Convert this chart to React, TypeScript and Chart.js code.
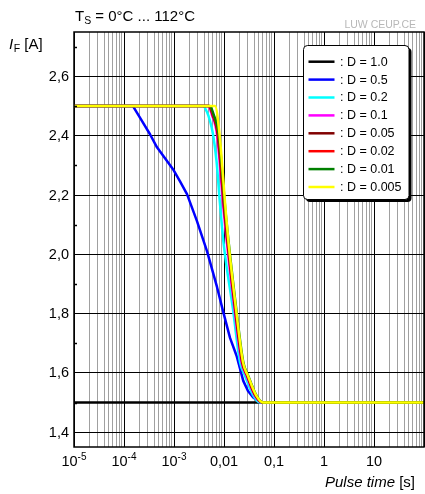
import React, { useEffect, useRef } from "react";
import { Chart, registerables } from "chart.js";
Chart.register(...registerables);

// ---- data ----
const seriesLabels = [": D = 1.0", ": D = 0.5", ": D = 0.2", ": D = 0.1", ": D = 0.05", ": D = 0.02", ": D = 0.01", ": D = 0.005"];
const seriesColors = ["#000000", "#0000ff", "#00ffff", "#ff00ff", "#800000", "#ff0000", "#008000", "#ffff00"];

const tD1 = [1e-5, 100];
const iD1 = [1.5, 1.5];

const tD05 = [1e-5, 1.51e-4, 2.19e-4, 3.31e-4, 4.57e-4, 6.61e-4, 9.55e-4, 1.32e-3, 1.82e-3, 2.88e-3, 4.57e-3, 7.24e-3, 9.68e-3, 1.32e-2, 1.79e-2, 2.43e-2, 3.02e-2, 3.8e-2, 5.25e-2, 100];
const iD05 = [2.5, 2.5, 2.455, 2.405, 2.361, 2.324, 2.287, 2.246, 2.203, 2.112, 2.011, 1.89, 1.805, 1.718, 1.657, 1.573, 1.539, 1.518, 1.5, 1.5];

const tD02 = [1e-5, 3.8e-3, 4.57e-3, 5.25e-3, 6.03e-3, 7.08e-3, 8.32e-3, 9.77e-3, 1.51e-2, 2.09e-2, 2.63e-2, 3.8e-2, 5.25e-2, 100];
const iD02 = [2.5, 2.5, 2.48, 2.45, 2.405, 2.315, 2.17, 2.04, 1.815, 1.636, 1.59, 1.525, 1.5, 1.5];

const tD01 = [1e-5, 4.79e-3, 5.75e-3, 7.24e-3, 1.0e-2, 1.62e-2, 2.24e-2, 2.82e-2, 4.07e-2, 5.75e-2, 100];
const iD01 = [2.5, 2.5, 2.47, 2.405, 2.135, 1.815, 1.636, 1.59, 1.525, 1.5, 1.5];

const tD005 = [1e-5, 4.95e-3, 5.94e-3, 7.48e-3, 1.033e-2, 1.67e-2, 2.31e-2, 2.91e-2, 4.2e-2, 5.9e-2, 100];
const iD005 = [2.5, 2.5, 2.47, 2.405, 2.135, 1.815, 1.636, 1.59, 1.525, 1.5, 1.5];

const tD002 = [1e-5, 5.06e-3, 6.08e-3, 7.65e-3, 1.057e-2, 1.71e-2, 2.37e-2, 2.98e-2, 4.3e-2, 6.0e-2, 100];
const iD002 = [2.5, 2.5, 2.47, 2.405, 2.135, 1.815, 1.636, 1.59, 1.525, 1.5, 1.5];

const tD001 = [1e-5, 5.2e-3, 6.24e-3, 7.86e-3, 1.086e-2, 1.76e-2, 2.43e-2, 3.06e-2, 4.42e-2, 6.0e-2, 100];
const iD001 = [2.5, 2.5, 2.47, 2.405, 2.135, 1.815, 1.636, 1.59, 1.525, 1.5, 1.5];

const tD0005 = [1e-5, 6.61e-3, 8.13e-3, 1.096e-2, 1.23e-2, 1.74e-2, 2.4e-2, 3.02e-2, 4.37e-2, 6.03e-2, 100];
const iD0005 = [2.5, 2.5, 2.405, 2.135, 2.04, 1.815, 1.636, 1.59, 1.525, 1.5, 1.5];

const seriesT = [tD1, tD05, tD02, tD01, tD005, tD002, tD001, tD0005];
const seriesI = [iD1, iD05, iD02, iD01, iD005, iD002, iD001, iD0005];
const seriesSmooth = [false, false, true, true, true, true, true, true];

const xMajor = [1e-5, 1e-4, 1e-3, 0.01, 0.1, 1, 10];
const xTickBase = ["10", "10", "10", "0,01", "0,1", "1", "10"];
const xTickExp = ["-5", "-4", "-3", "", "", "", ""];
const yMajor = [1.4, 1.6, 1.8, 2.0, 2.2, 2.4, 2.6];
const yTickLabels = ["1,4", "1,6", "1,8", "2,0", "2,2", "2,4", "2,6"];
const yMinor = [1.5, 1.7, 1.9, 2.1, 2.3, 2.5, 2.7];

const titleMain = "T";
const titleSub = "S";
const titleRest = " = 0°C ... 112°C";
const yTitleMain = "I";
const yTitleSub = "F";
const yTitleRest = " [A]";
const xTitleItalic = "Pulse time";
const xTitleRest = " [s]";
const watermark = "LUW CEUP.CE";

const FONT = "'Liberation Sans', Arial, sans-serif";

const textPlugin = {
  id: "texts",
  afterDatasetsDraw(chart: any) {
    const { ctx, chartArea, scales } = chart;
    const xs = scales.x;
    const ys = scales.y;
    ctx.save();
    // frame
    ctx.strokeStyle = "#000";
    ctx.lineWidth = 1.5;
    ctx.strokeRect(chartArea.left, chartArea.top, chartArea.right - chartArea.left, chartArea.bottom - chartArea.top);
    // minor y ticks
    ctx.lineWidth = 1.5;
    yMinor.forEach((v) => {
      const py = Math.round(ys.getPixelForValue(v)) + 0.5;
      ctx.beginPath();
      ctx.moveTo(chartArea.left, py);
      ctx.lineTo(chartArea.left + 3, py);
      ctx.stroke();
    });
    // y tick labels
    ctx.fillStyle = "#000";
    ctx.font = `14.5px ${FONT}`;
    ctx.textAlign = "right";
    ctx.textBaseline = "middle";
    yMajor.forEach((v, i) => {
      ctx.fillText(yTickLabels[i], 69, ys.getPixelForValue(v) + 0.5);
    });
    // x tick labels
    ctx.textBaseline = "alphabetic";
    ctx.textAlign = "left";
    xMajor.forEach((v, i) => {
      const px = xs.getPixelForValue(v);
      ctx.font = `14.5px ${FONT}`;
      const wb = ctx.measureText(xTickBase[i]).width;
      ctx.font = `10px ${FONT}`;
      const we = xTickExp[i] ? ctx.measureText(xTickExp[i]).width : 0;
      const x0 = px - (wb + we) / 2;
      ctx.font = `14.5px ${FONT}`;
      ctx.fillText(xTickBase[i], x0, 466);
      if (xTickExp[i]) {
        ctx.font = `10px ${FONT}`;
        ctx.fillText(xTickExp[i], x0 + wb, 460);
      }
    });
    // title
    ctx.font = `15px ${FONT}`;
    ctx.fillText(titleMain, 75, 20.5);
    let w = ctx.measureText(titleMain).width;
    ctx.font = `10.5px ${FONT}`;
    ctx.fillText(titleSub, 75 + w, 24);
    w += ctx.measureText(titleSub).width;
    ctx.font = `15px ${FONT}`;
    ctx.fillText(titleRest, 75 + w, 20.5);
    // y title
    ctx.font = `italic 15px ${FONT}`;
    ctx.fillText(yTitleMain, 9, 49);
    let w2 = ctx.measureText(yTitleMain).width + 0.5;
    ctx.font = `10.5px ${FONT}`;
    ctx.fillText(yTitleSub, 9 + w2, 52);
    w2 += ctx.measureText(yTitleSub).width;
    ctx.font = `15px ${FONT}`;
    ctx.fillText(yTitleRest, 9 + w2, 49);
    // watermark
    ctx.font = `10.5px ${FONT}`;
    ctx.fillStyle = "#b8b8b8";
    ctx.textAlign = "right";
    ctx.fillText(watermark, 416, 28);
    // x title
    ctx.fillStyle = "#000";
    ctx.font = `15px ${FONT}`;
    ctx.textAlign = "right";
    ctx.fillText(xTitleRest, 415, 487);
    const wr = ctx.measureText(xTitleRest).width;
    ctx.font = `italic 15px ${FONT}`;
    ctx.fillText(xTitleItalic, 415 - wr, 487);
    // legend
    const lx = 303.5, ly = 45.5, lw = 105.5, lh = 154, r = 4;
    const rr = (x: number, y: number) => {
      ctx.beginPath();
      ctx.moveTo(x + r, y);
      ctx.lineTo(x + lw - r, y);
      ctx.quadraticCurveTo(x + lw, y, x + lw, y + r);
      ctx.lineTo(x + lw, y + lh - r);
      ctx.quadraticCurveTo(x + lw, y + lh, x + lw - r, y + lh);
      ctx.lineTo(x + r, y + lh);
      ctx.quadraticCurveTo(x, y + lh, x, y + lh - r);
      ctx.lineTo(x, y + r);
      ctx.quadraticCurveTo(x, y, x + r, y);
      ctx.closePath();
    };
    ctx.fillStyle = "#000";
    rr(lx + 2.5, ly + 2.5);
    ctx.fill();
    rr(lx, ly);
    ctx.fillStyle = "#fff";
    ctx.fill();
    ctx.lineWidth = 1;
    ctx.strokeStyle = "#000";
    ctx.stroke();
    ctx.textAlign = "left";
    ctx.textBaseline = "middle";
    ctx.font = `12.5px ${FONT}`;
    seriesLabels.forEach((lab, i) => {
      const yy = 61.7 + i * 17.9;
      ctx.strokeStyle = seriesColors[i];
      ctx.lineWidth = 2.5;
      ctx.beginPath();
      ctx.moveTo(308.5, yy);
      ctx.lineTo(334.5, yy);
      ctx.stroke();
      ctx.fillStyle = "#000";
      ctx.fillText(lab, 340, yy + 0.5);
    });
    ctx.restore();
  },
};

export default function App() {
  const ref = useRef<HTMLCanvasElement>(null);
  useEffect(() => {
    if (!ref.current) return;
    const n = seriesLabels.length;
    const datasets = seriesLabels.map((lab, i) => ({
      label: lab,
      data: seriesT[i].map((t, j) => ({ x: t, y: seriesI[i][j] })),
      borderColor: seriesColors[i],
      backgroundColor: seriesColors[i],
      borderWidth: 2.5,
      pointRadius: 0,
      tension: 0,
      cubicInterpolationMode: seriesSmooth[i] ? "monotone" : "default",
      borderJoinStyle: "round",
      fill: false,
      order: n - 1 - i,
    }));
    const xTicks: number[] = [];
    for (let d = -5; d <= 1; d++) for (let k = 1; k <= 9; k++) xTicks.push(k * Math.pow(10, d));
    xTicks.push(100);
    const chart = new Chart(ref.current, {
      type: "line",
      data: { datasets },
      plugins: [textPlugin],
      options: {
        animation: false,
        responsive: false,
        devicePixelRatio: 1,
        layout: { padding: { left: 74, top: 32, right: 1, bottom: 47 } },
        plugins: { legend: { display: false }, tooltip: { enabled: false }, title: { display: false } },
        scales: {
          x: {
            type: "logarithmic",
            min: 1e-5,
            max: 100,
            afterBuildTicks: (s: any) => {
              s.ticks = xTicks.map((v) => ({ value: v }));
            },
            ticks: { display: false },
            border: { display: false },
            grid: {
              drawTicks: false,
              lineWidth: 1,
              color: (c: any) => {
                const v = c.tick ? c.tick.value : 1;
                const l = Math.log10(v);
                return Math.abs(l - Math.round(l)) < 1e-6 ? "#000" : "#a0a0a0";
              },
            },
          },
          y: {
            type: "linear",
            min: 1.35,
            max: 2.75,
            afterBuildTicks: (s: any) => {
              s.ticks = yMajor.map((v) => ({ value: v }));
            },
            ticks: { display: false },
            border: { display: false },
            grid: { drawTicks: false, lineWidth: 1, color: "#000" },
          },
        },
      } as any,
    });
    return () => chart.destroy();
  }, []);
  return (
    <div style={{ position: "fixed", left: 0, top: 0, width: 425, height: 494, background: "#fff" }}>
      <canvas ref={ref} width={425} height={494} style={{ width: 425, height: 494, display: "block" }} />
    </div>
  );
}
